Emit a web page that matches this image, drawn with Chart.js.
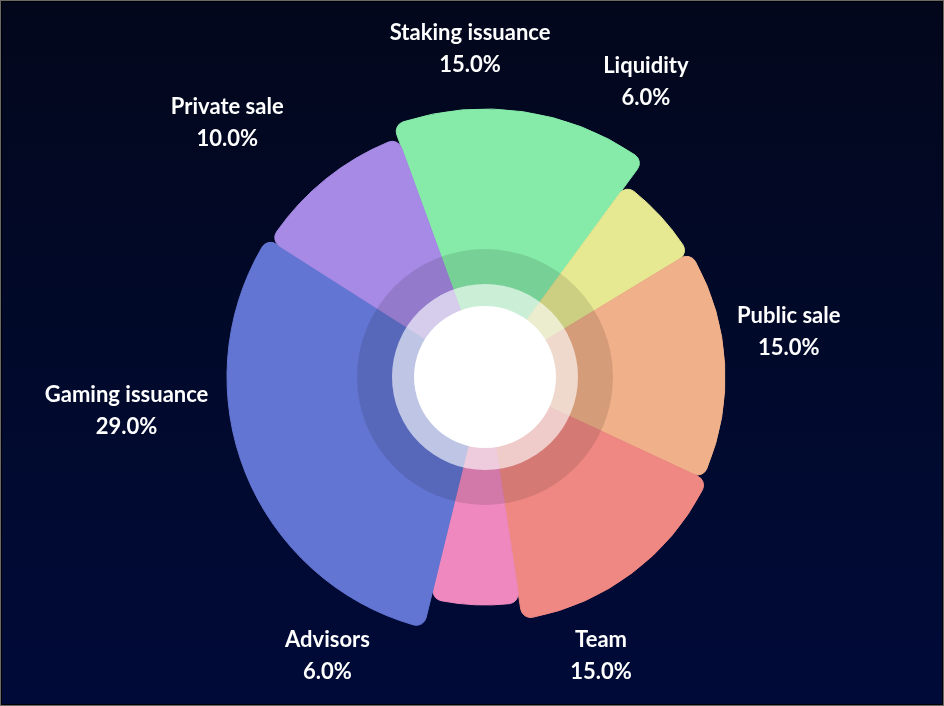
<!DOCTYPE html>
<html>
<head>
<meta charset="utf-8">
<script src="https://cdn.jsdelivr.net/npm/chart.js@4"></script>
<style>
  html, body { margin: 0; padding: 0; background: #000; }
  #wrap {
    width: 944px; height: 706px; position: relative;
    background: linear-gradient(180deg, #03071c 0%, #010a2e 60%, #000a38 100%);
    box-shadow: inset 0 0 0 1px #6a6a6a, inset 0 0 0 2px #000;
  }
  canvas { position: absolute; left: 0; top: 0; }
</style>
</head>
<body>
<div id="wrap"><canvas id="chart" width="944" height="706"></canvas></div>
<script>
const categories = ['Staking issuance', 'Liquidity', 'Public sale', 'Team', 'Advisors', 'Gaming issuance', 'Private sale'];
const shares = [15, 6, 15, 15, 6, 29, 10];

// look only
const sliceColors = ['#86eba9', '#e6e892', '#f0b08a', '#ef8882', '#ee88be', '#6275d2', '#a68ae5'];
const sliceReach = [268, 238, 240, 245, 228, 258, 254];
// label placement around the centre: [degrees from top, distance]
const labelSpot = [[-2.6, 328], [28.6, 336], [81.6, 307], [157.4, 302], [209.5, 320], [264.6, 360], [314.6, 362]];

const reach = {
  id: 'reach',
  afterDatasetUpdate(chart) {
    chart.getDatasetMeta(0).data.forEach((arc, i) => {
      arc.outerRadius = sliceReach[i];
    });
  }
};

const hub = {
  id: 'hub',
  afterDatasetsDraw(chart) {
    const arc = chart.getDatasetMeta(0).data[0];
    const ctx = chart.ctx;
    const ring = (r, color) => {
      ctx.beginPath();
      ctx.arc(arc.x, arc.y, r, 0, Math.PI * 2);
      ctx.fillStyle = color;
      ctx.fill();
    };
    ctx.save();
    ring(128, 'rgba(0,0,0,0.11)');
    ring(93, 'rgba(255,255,255,0.62)');
    ring(71, '#ffffff');
    ctx.restore();
  }
};

const tags = {
  id: 'tags',
  afterDraw(chart) {
    const arc = chart.getDatasetMeta(0).data[0];
    const ctx = chart.ctx;
    ctx.save();
    ctx.fillStyle = '#ffffff';
    ctx.textAlign = 'center';
    ctx.textBaseline = 'middle';
    ctx.font = 'bold 22px Lato';
    categories.forEach((name, i) => {
      const a = labelSpot[i][0] * Math.PI / 180;
      const d = labelSpot[i][1];
      const x = arc.x + d * Math.sin(a);
      const y = arc.y - d * Math.cos(a);
      ctx.fillText(name, x, y - 16);
      ctx.fillText(shares[i].toFixed(1) + '%', x, y + 16);
    });
    ctx.restore();
  }
};

new Chart(document.getElementById('chart'), {
  type: 'pie',
  data: {
    labels: categories,
    datasets: [{
      data: shares,
      backgroundColor: sliceColors,
      borderColor: sliceColors,
      borderWidth: 1,
      borderRadius: { outerStart: 10, outerEnd: 10, innerStart: 0, innerEnd: 0 }
    }]
  },
  options: {
    responsive: false,
    animation: false,
    rotation: -20,
    layout: { padding: { left: 26, right: 0, top: 48, bottom: 0 } },
    plugins: { legend: { display: false }, tooltip: { enabled: false } }
  },
  plugins: [reach, hub, tags]
});
</script>
</body>
</html>
